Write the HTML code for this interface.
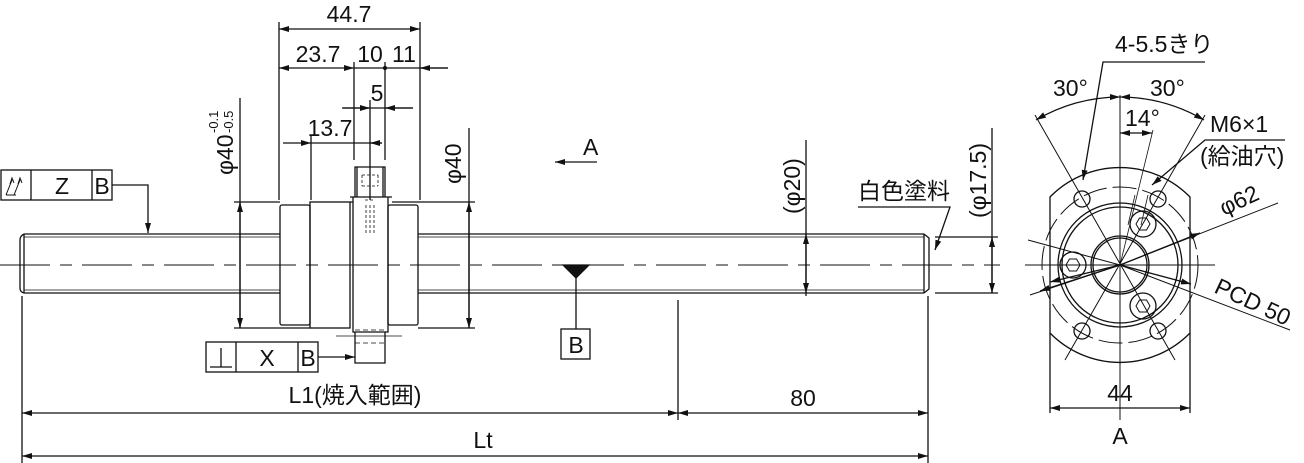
<!DOCTYPE html>
<html><head><meta charset="utf-8"><style>
html,body{margin:0;padding:0;background:#fff}
svg{display:block}
text{font-family:"Liberation Sans","Noto Sans CJK JP",sans-serif;fill:#111}
</style></head><body>
<svg width="1304" height="463" viewBox="0 0 1304 463" xmlns="http://www.w3.org/2000/svg">
<defs>
<marker id="ar" viewBox="0 0 10 6" refX="10" refY="3" markerWidth="10" markerHeight="6" orient="auto-start-reverse" markerUnits="userSpaceOnUse"><path d="M0,0 L10,3 L0,6 z" fill="#111"/></marker>
</defs>
<g stroke="#111" stroke-width="1.3" fill="none">
<path d="M24,234 L280,234 M24,293 L280,293 M418,234 L924,234 M418,293 L924,293"/>
<path d="M24,234 Q20,236 20,240 L20,288 Q20,292 24,293 M24,234 L24,293"/>
<path d="M924,234 L929,238 L929,289 L924,293 M924,234 L924,293"/>
<path d="M24,237 L280,237 M24,290 L280,290 M418,237 L924,237 M418,290 L924,290" stroke-width="0.8"/>
<path d="M0,265 L1000,265" stroke-width="1" stroke-dasharray="50,10,12,10"/>
<rect x="280" y="205" width="30" height="120" rx="2"/>
<rect x="310" y="202" width="40" height="126"/>
<path d="M353,197 L353,332 L388,332 L388,197 M355,197 L355,167 L385,167 L385,197 M350,197 L392,197"/>
<path d="M357,167 L357,197 M383,167 L383,197"/>
<rect x="388" y="205" width="30" height="120" rx="2"/>
<path d="M355,332 L355,363 L385,363 L385,332"/>
<path d="M362,175 L378,175 M362,186 L378,186 M362,175 L362,186 M378,175 L378,186 M365,200 L375,200 M366,205 L366,235 M370,205 L370,235 M374,205 L374,235" stroke-width="0.8" stroke-dasharray="3,2"/>
<path d="M355,343 L385,343 M355,330 L385,330" stroke-width="0.8" stroke-dasharray="5,3"/>
<path d="M336,336 L402,336" stroke-width="0.8"/>
<path d="M563,265 L589,265 L576,278 z" fill="#111"/>
<path d="M576,278 L576,329"/>
<rect x="561" y="329" width="29" height="30"/>
<rect x="1" y="170" width="111" height="30"/>
<path d="M31,170 L31,200 M92,170 L92,200"/>
<path d="M6,195 L12,180 M10,184 L12,178 L14,183 M14,195 L20,180 M18,184 L20,178 L22,183 M6,195 L16,195" stroke-width="1"/>
<path d="M112,185 L148,185 L148,233" marker-end="url(#ar)"/>
<rect x="206" y="342" width="112" height="30"/>
<path d="M236,342 L236,372 M298,342 L298,372 M210,367 L232,367 M221,348 L221,367"/>
<path d="M318,357 L355,357" marker-end="url(#ar)"/>
<path d="M597,162 L555,162" marker-end="url(#ar)"/>
<path d="M279,200 L279,22 M420,200 L420,22 M354,160 L354,62 M385,160 L385,62"/>
<path d="M279,29 L420,29" marker-start="url(#ar)" marker-end="url(#ar)"/>
<path d="M279,68 L354,68" marker-start="url(#ar)" marker-end="url(#ar)"/>
<path d="M354,68 L448,68"/>
<path d="M448,68 L420,68" marker-end="url(#ar)"/>
<circle cx="385" cy="68" r="1.5" fill="#111"/>
<path d="M342,108 L413,108"/>
<path d="M343,108 L370,108" marker-end="url(#ar)"/>
<path d="M413,108 L385,108" marker-end="url(#ar)"/>
<path d="M370,100 L370,200"/>
<path d="M311,200 L311,135"/>
<path d="M283,143 L311,143" marker-end="url(#ar)"/>
<path d="M311,143 L382,143"/>
<path d="M382,143 L370,143" marker-end="url(#ar)"/>
<path d="M234,202 L280,202 M234,328 L310,328 M418,202 L475,202 M418,328 L475,328 M350,202 L353,202 M392,202 L418,202"/>
<path d="M240,98 L240,328"/>
<path d="M240,265 L240,202" marker-end="url(#ar)"/>
<path d="M240,265 L240,328" marker-end="url(#ar)"/>
<path d="M469,128 L469,328"/>
<path d="M469,265 L469,202" marker-end="url(#ar)"/>
<path d="M469,265 L469,328" marker-end="url(#ar)"/>
<path d="M806,140 L806,296"/>
<path d="M806,265 L806,234" marker-end="url(#ar)"/>
<path d="M806,265 L806,293" marker-end="url(#ar)"/>
<path d="M935,237 L998,237 M935,293 L998,293 M992,128 L992,293"/>
<path d="M992,265 L992,237" marker-end="url(#ar)"/>
<path d="M992,265 L992,293" marker-end="url(#ar)"/>
<path d="M858,207 L950,207 L935,250" marker-end="url(#ar)"/>
<path d="M22,296 L22,463 M678,300 L678,420 M928,296 L928,463"/>
<path d="M22,413 L678,413" marker-start="url(#ar)" marker-end="url(#ar)"/>
<path d="M678,413 L928,413" marker-start="url(#ar)" marker-end="url(#ar)"/>
<path d="M22,456 L928,456" marker-start="url(#ar)" marker-end="url(#ar)"/>

<path d="M1050,197 A98,98 0 0 1 1190,197 L1190,333 A98,98 0 0 1 1050,333 Z"/>
<path d="M1050,333 L1050,413 M1190,333 L1190,413"/>
<circle cx="1120" cy="265" r="78" stroke-dasharray="24,6" stroke-width="1"/>
<circle cx="1120" cy="265" r="62"/>
<circle cx="1120" cy="265" r="58"/>
<circle cx="1120" cy="265" r="29"/>
<circle cx="1120" cy="265" r="27"/>
<circle cx="1082" cy="199" r="8"/><circle cx="1158" cy="199" r="8"/>
<circle cx="1082" cy="331" r="8"/><circle cx="1158" cy="331" r="8"/>
<circle cx="1073" cy="265" r="13"/><circle cx="1143" cy="224" r="13"/><circle cx="1143" cy="306" r="13"/>
<path d="M1066,265 L1069.5,259 L1076.5,259 L1080,265 L1076.5,271 L1069.5,271 Z M1136,224 L1139.5,218 L1146.5,218 L1150,224 L1146.5,230 L1139.5,230 Z M1136,306 L1139.5,300 L1146.5,300 L1150,306 L1146.5,312 L1139.5,312 Z" stroke-width="1"/>
<path d="M1025,265 L1215,265 M1120,95 L1120,420" stroke-width="1"/>
<path d="M1035,115 L1175,360 M1205,115 L1065,360" stroke-width="1"/>
<path d="M1120,265 L1153,130 M1135,195 L1128,225 M1148,195 L1141,225" stroke-width="0.8"/>
<path d="M1028,240 L1120,265 L1290,330" stroke-width="1"/>
<path d="M1120,265 L1050,282" marker-end="url(#ar)"/>
<path d="M1030,295 L1120,265 L1278,203" stroke-width="1"/>
<path d="M1120,265 L1200,233" marker-end="url(#ar)"/>
<path d="M1120,265 L1040,291" marker-end="url(#ar)"/>
<path d="M1120,265 L1191,284" marker-end="url(#ar)"/>
<path d="M1120,97 A168,168 0 0 0 1036,120" marker-end="url(#ar)" marker-start="url(#ar)"/>
<path d="M1120,97 A168,168 0 0 1 1204,120" marker-end="url(#ar)" marker-start="url(#ar)"/>
<path d="M1120,133 L1152,133" marker-start="url(#ar)" marker-end="url(#ar)"/>
<path d="M1205,62 L1103,62 L1083,180" marker-end="url(#ar)"/>
<path d="M1285,140 L1205,140 L1152,185" marker-end="url(#ar)"/>
<path d="M1050,408 L1190,408" marker-start="url(#ar)" marker-end="url(#ar)"/>
</g>
<g font-size="23">
<text x="349" y="22" text-anchor="middle">44.7</text>
<text x="318" y="62" text-anchor="middle">23.7</text>
<text x="370" y="62" text-anchor="middle">10</text>
<text x="404" y="62" text-anchor="middle">11</text>
<text x="377" y="101" text-anchor="middle">5</text>
<text x="330" y="136" text-anchor="middle">13.7</text>
<text transform="translate(233,175) rotate(-90)">φ40</text>
<text transform="translate(218,133) rotate(-90)" font-size="13">-0.1</text>
<text transform="translate(233,133) rotate(-90)" font-size="13">-0.5</text>
<text transform="translate(461,184) rotate(-90)">φ40</text>
<text x="583" y="155">A</text>
<text x="62" y="194" text-anchor="middle">Z</text>
<text x="102" y="194" text-anchor="middle">B</text>
<text x="267" y="366" text-anchor="middle">X</text>
<text x="308" y="366" text-anchor="middle">B</text>
<text x="576" y="353" text-anchor="middle">B</text>
<text x="355" y="403" text-anchor="middle">L1(焼入範囲)</text>
<text x="803" y="406" text-anchor="middle">80</text>
<text x="483" y="448" text-anchor="middle">Lt</text>
<text transform="translate(800,214) rotate(-90)">(φ20)</text>
<text transform="translate(986,218) rotate(-90)">(φ17.5)</text>
<text x="858" y="199">白色塗料</text>
<text x="1115" y="52">4-5.5きり</text>
<text x="1053" y="96">30°</text>
<text x="1150" y="96">30°</text>
<text x="1125" y="126">14°</text>
<text x="1210" y="132">M6×1</text>
<text x="1200" y="164">(給油穴)</text>
<text transform="translate(1224,216) rotate(-25)">φ62</text>
<text transform="translate(1213,292) rotate(25)">PCD 50</text>
<text x="1120" y="401" text-anchor="middle">44</text>
<text x="1120" y="444" text-anchor="middle">A</text>
</g>
</svg>
</body></html>
